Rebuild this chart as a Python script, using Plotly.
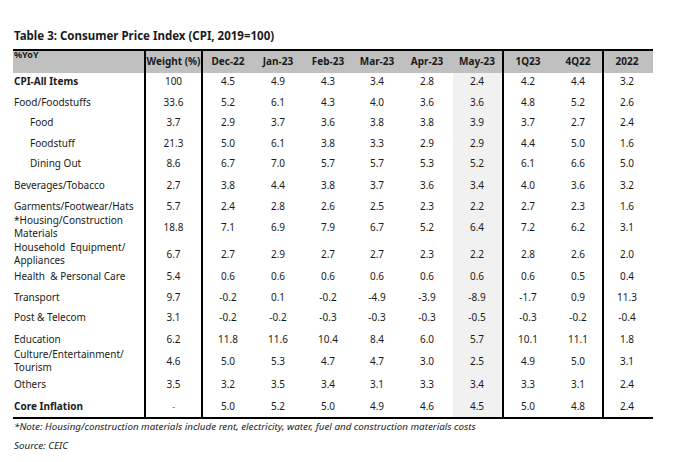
import plotly.graph_objects as go

# ---------------- data ----------------
title = "Table 3: Consumer Price Index (CPI, 2019=100)"
corner_label = "%YoY"
columns = ["Weight (%)", "Dec-22", "Jan-23", "Feb-23", "Mar-23", "Apr-23", "May-23", "1Q23", "4Q22", "2022"]

categories = [
    "CPI-All Items", "Food/Foodstuffs", "Food", "Foodstuff", "Dining Out",
    "Beverages/Tobacco", "Garments/Footwear/Hats", "*Housing/Construction<br>Materials",
    "Household  Equipment/<br>Appliances", "Health  & Personal Care", "Transport",
    "Post & Telecom", "Education", "Culture/Entertainment/<br>Tourism", "Others", "Core Inflation",
]
weights = ["100", "33.6", "3.7", "21.3", "8.6", "2.7", "5.7", "18.8", "6.7", "5.4", "9.7", "3.1", "6.2", "4.6", "3.5", "-"]
dec22 = [4.5, 5.2, 2.9, 5.0, 6.7, 3.8, 2.4, 7.1, 2.7, 0.6, -0.2, -0.2, 11.8, 5.0, 3.2, 5.0]
jan23 = [4.9, 6.1, 3.7, 6.1, 7.0, 4.4, 2.8, 6.9, 2.9, 0.6, 0.1, -0.2, 11.6, 5.3, 3.5, 5.2]
feb23 = [4.3, 4.3, 3.6, 3.8, 5.7, 3.8, 2.6, 7.9, 2.7, 0.6, -0.2, -0.3, 10.4, 4.7, 3.4, 5.0]
mar23 = [3.4, 4.0, 3.8, 3.3, 5.7, 3.7, 2.5, 6.7, 2.7, 0.6, -4.9, -0.3, 8.4, 4.7, 3.1, 4.9]
apr23 = [2.8, 3.6, 3.8, 2.9, 5.3, 3.6, 2.3, 5.2, 2.3, 0.6, -3.9, -0.3, 6.0, 3.0, 3.3, 4.6]
may23 = [2.4, 3.6, 3.9, 2.9, 5.2, 3.4, 2.2, 6.4, 2.2, 0.6, -8.9, -0.5, 5.7, 2.5, 3.4, 4.5]
q1_23 = [4.2, 4.8, 3.7, 4.4, 6.1, 4.0, 2.7, 7.2, 2.8, 0.6, -1.7, -0.3, 10.1, 4.9, 3.3, 5.0]
q4_22 = [4.4, 5.2, 2.7, 5.0, 6.6, 3.6, 2.3, 6.2, 2.6, 0.5, 0.9, -0.2, 11.1, 5.0, 3.1, 4.8]
y2022 = [3.2, 2.6, 2.4, 1.6, 5.0, 3.2, 1.6, 3.1, 2.0, 0.4, 11.3, -0.4, 1.8, 3.1, 2.4, 2.4]
bold_rows = ["CPI-All Items", "Core Inflation"]
indented_rows = ["Food", "Foodstuff", "Dining Out"]
note = "*Note: Housing/construction materials include rent, electricity, water, fuel and construction materials costs"
source = "Source: CEIC"

value_cols = [dec22, jan23, feb23, mar23, apr23, may23, q1_23, q4_22, y2022]

# ---------------- layout (positions / styles) ----------------
W, H = 674, 462
OFF = 8  # page body margin
FONT = "Noto Sans"
TXT = "#1a1a1a"
FS = 10
col_x = [173.5, 228, 278, 328, 377, 427, 477, 528, 578, 627]
row_y = [82, 103, 123, 144, 164, 186, 207, 228, 255, 277, 298, 318, 340, 362, 385, 407]
left, right = 13, 653
top, head_bot, bottom = 50, 73, 418
vlines = [145, 202, 503, 603]
shade_x = (453, 503)

fig = go.Figure()

# row labels
lab_x = [30 if c in indented_rows else 14 for c in categories]
lab_txt = [f"<b>{c}</b>" if c in bold_rows else c for c in categories]
fig.add_trace(go.Scatter(x=lab_x, y=row_y, text=lab_txt, mode="text",
                         textposition="middle right",
                         textfont=dict(family=FONT, size=FS, color=TXT),
                         hoverinfo="skip", showlegend=False))

# weights
fig.add_trace(go.Scatter(x=[col_x[0]] * len(weights), y=row_y, text=weights, mode="text",
                         textposition="middle center",
                         textfont=dict(family=FONT, size=FS,
                                       color=["#888888" if w == "-" else TXT for w in weights]),
                         hoverinfo="skip", showlegend=False))

# value columns
for cx, vals in zip(col_x[1:], value_cols):
    fig.add_trace(go.Scatter(x=[cx] * len(vals), y=row_y, text=[f"{v:.1f}" for v in vals],
                             mode="text", textposition="middle center",
                             textfont=dict(family=FONT, size=FS, color=TXT),
                             hoverinfo="skip", showlegend=False))

# header
fig.add_trace(go.Scatter(x=col_x, y=[62] * len(columns), text=[f"<b>{c}</b>" for c in columns],
                         mode="text", textposition="middle center",
                         textfont=dict(family=FONT, size=FS, color=TXT),
                         hoverinfo="skip", showlegend=False))
fig.add_trace(go.Scatter(x=[14], y=[56], text=[f"<b>{corner_label}</b>"], mode="text",
                         textposition="middle right",
                         textfont=dict(family=FONT, size=9, color=TXT),
                         hoverinfo="skip", showlegend=False))

shapes = [
    dict(type="rect", x0=left, x1=right, y0=top, y1=head_bot, fillcolor="#c0c0c0",
         line=dict(width=0), layer="below"),
    dict(type="rect", x0=shade_x[0], x1=shade_x[1], y0=head_bot, y1=bottom, fillcolor="#f1f1f1",
         line=dict(width=0), layer="below"),
    dict(type="line", x0=left, x1=right, y0=top, y1=top, line=dict(color="black", width=2)),
    dict(type="line", x0=left, x1=right, y0=bottom, y1=bottom, line=dict(color="black", width=2)),
]
for vx in vlines:
    shapes.append(dict(type="line", x0=vx, x1=vx, y0=top, y1=bottom, line=dict(color="black", width=2)))

annotations = [
    dict(x=12, y=35, text=f"<b>{title}</b>", showarrow=False, xanchor="left", yanchor="middle",
         font=dict(family=FONT, size=11.5, color=TXT)),
    dict(x=12, y=426, text=f"<i>{note}</i>", showarrow=False, xanchor="left", yanchor="middle",
         font=dict(family=FONT, size=9.8, color=TXT)),
    dict(x=12, y=445, text=f"<i>{source}</i>", showarrow=False, xanchor="left", yanchor="middle",
         font=dict(family=FONT, size=9.8, color=TXT)),
]

fig.update_layout(
    width=W - OFF, height=H - OFF, margin=dict(l=0, r=0, t=0, b=0),
    paper_bgcolor="white", plot_bgcolor="white",
    xaxis=dict(range=[OFF, W], visible=False, fixedrange=True),
    yaxis=dict(range=[H, OFF], visible=False, fixedrange=True),
    shapes=shapes, annotations=annotations,
)

fig.write_html("out.html")
